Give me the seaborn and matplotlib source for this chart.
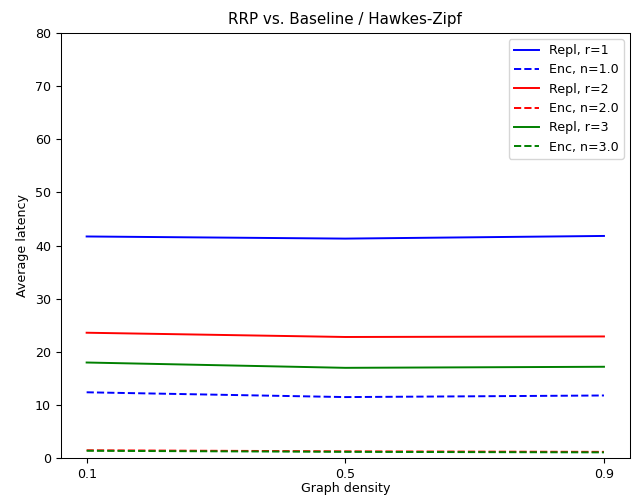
import matplotlib
matplotlib.use("Agg")
import matplotlib.pyplot as plt
import seaborn as sns
import pandas as pd

density = [0.1, 0.5, 0.9]

repl_r1 = [41.7, 41.3, 41.8]
enc_n1 = [12.4, 11.5, 11.8]
repl_r2 = [23.6, 22.8, 22.9]
enc_n2 = [1.5, 1.3, 1.2]
repl_r3 = [18.0, 17.0, 17.2]
enc_n3 = [1.4, 1.2, 1.1]

series = [
    ("Repl, r=1", repl_r1, "blue", "-"),
    ("Enc, n=1.0", enc_n1, "blue", "--"),
    ("Repl, r=2", repl_r2, "red", "-"),
    ("Enc, n=2.0", enc_n2, "red", "--"),
    ("Repl, r=3", repl_r3, "green", "-"),
    ("Enc, n=3.0", enc_n3, "green", "--"),
]

plt.rcParams["font.size"] = 9.05
plt.rcParams["lines.linewidth"] = 1.4
plt.rcParams["axes.linewidth"] = 0.75

fig = plt.figure(figsize=(6.33, 4.97), dpi=100)
ax = fig.add_axes([0.096, 0.078, 0.899, 0.856])

for label, values, color, ls in series:
    df = pd.DataFrame({"density": density, "latency": values})
    sns.lineplot(data=df, x="density", y="latency", ax=ax, color=color,
                 linestyle=ls, label=label)

ax.set_xticks(density)
ax.set_xticklabels([str(d) for d in density])
ax.set_ylim(0, 80)
ax.set_xlim(0.06, 0.94)
ax.set_title("RRP vs. Baseline / Hawkes-Zipf")
ax.set_xlabel("Graph density", labelpad=1)
ax.set_ylabel("Average latency")
ax.legend(loc="upper right")

fig.savefig("out.png", dpi=100)
